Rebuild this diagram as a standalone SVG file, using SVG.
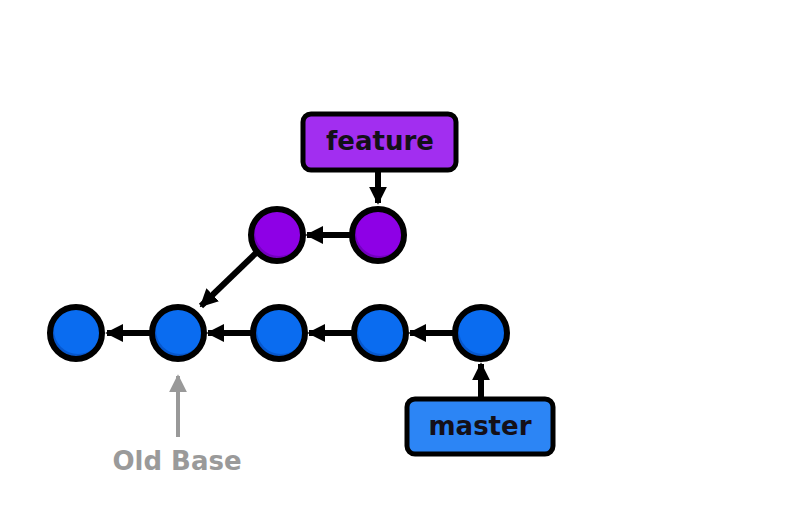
<svg xmlns="http://www.w3.org/2000/svg" width="800" height="509" viewBox="0 0 800 509">
<style>
.edge{stroke:#000;stroke-width:6;fill:none}
.ring{stroke:#000;stroke-width:6}
.lbl{font-family:"DejaVu Sans",Lato,sans-serif;font-weight:bold;font-size:26px;text-anchor:middle;fill:#141018}
</style>
<defs>
<marker id="ah" viewBox="0 0 10 10" refX="9" refY="5" markerWidth="3" markerHeight="3" orient="auto" markerUnits="strokeWidth">
<path d="M0,0 L10,5 L0,10 z" fill="#000"/>
</marker>
<marker id="ahg" viewBox="0 0 10 10" refX="9" refY="5" markerWidth="4.5" markerHeight="4.5" orient="auto" markerUnits="strokeWidth">
<path d="M0,0 L10,5 L0,10 z" fill="#999"/>
</marker>
<clipPath id="cb"><circle cx="0" cy="0" r="26"/></clipPath>
<g id="blueDot">
<circle cx="0" cy="0" r="26" fill="#0757CC"/>
<circle cx="2" cy="-3" r="24" fill="#0A6CF0" clip-path="url(#cb)"/>
<circle cx="0" cy="0" r="26" fill="none" class="ring"/>
</g>
<g id="purpleDot">
<circle cx="0" cy="0" r="26" fill="#7200BE"/>
<circle cx="2" cy="-3" r="24" fill="#8E00E6" clip-path="url(#cb)"/>
<circle cx="0" cy="0" r="26" fill="none" class="ring"/>
</g>
</defs>
<rect width="800" height="509" fill="#fff"/>
<g id="connectors">
<line class="edge" x1="150" y1="333" x2="107" y2="333" marker-end="url(#ah)"/>
<line class="edge" x1="251" y1="333" x2="208" y2="333" marker-end="url(#ah)"/>
<line class="edge" x1="352" y1="333" x2="309" y2="333" marker-end="url(#ah)"/>
<line class="edge" x1="453" y1="333" x2="410" y2="333" marker-end="url(#ah)"/>
<line class="edge" x1="350" y1="235" x2="307" y2="235" marker-end="url(#ah)"/>
<line class="edge" x1="256" y1="253" x2="201" y2="306" marker-end="url(#ah)"/>
<line class="edge" x1="378" y1="172" x2="378" y2="203" marker-end="url(#ah)"/>
<line class="edge" x1="481" y1="397" x2="481" y2="364" marker-end="url(#ah)"/>
<line x1="178" y1="437" x2="178" y2="376" stroke="#999" stroke-width="4" marker-end="url(#ahg)"/>
</g>
<g id="c1"><use href="#blueDot" x="76" y="333"/></g>
<g id="c2"><use href="#blueDot" x="178" y="333"/></g>
<g id="c3"><use href="#blueDot" x="279" y="333"/></g>
<g id="c4"><use href="#blueDot" x="380" y="333"/></g>
<g id="c5"><use href="#blueDot" x="481" y="333"/></g>
<g id="p1"><use href="#purpleDot" x="277" y="235"/></g>
<g id="p2"><use href="#purpleDot" x="378" y="235"/></g>
<g id="feature">
<rect x="303" y="114" width="153" height="56" rx="8" fill="#A22EF0" stroke="#000" stroke-width="5"/>
<text class="lbl" x="380" y="150">feature</text>
</g>
<g id="master">
<rect x="407" y="399" width="146" height="55" rx="8" fill="#2C85F5" stroke="#000" stroke-width="5"/>
<text class="lbl" x="480" y="435">master</text>
</g>
<g id="oldbase">
<text x="177" y="470" font-family="'DejaVu Sans',Lato,sans-serif" font-weight="bold" font-size="26" text-anchor="middle" fill="#9a9a9a">Old Base</text>
</g>
</svg>
